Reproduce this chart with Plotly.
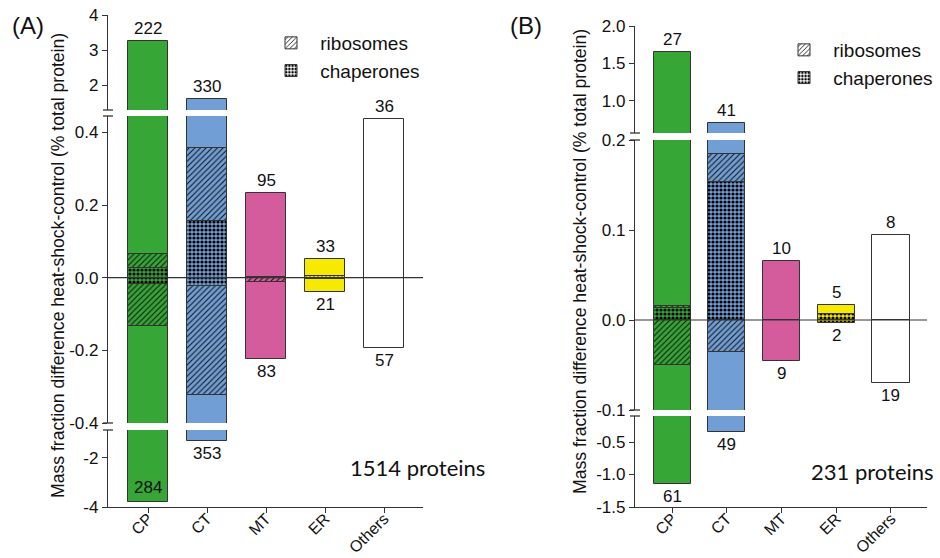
import plotly.graph_objects as go

W, H = 940, 558

categories = ["CP", "CT", "MT", "ER", "Others"]
colors = ["#36a637", "#719fd5", "#d45c9d", "#f6ea00", "#ffffff"]

# Panel A: 1514 proteins
A_up_total = [3.26, 1.60, 0.232, 0.052, 0.437]
A_up_chap = [0.028, 0.157, 0.003, 0.004, 0.0]
A_up_ribo = [0.036, 0.200, 0.0, 0.0, 0.0]
A_down_total = [-3.80, -1.30, -0.224, -0.039, -0.193]
A_down_chap = [-0.017, -0.024, 0.0, -0.003, 0.0]
A_down_ribo = [-0.116, -0.300, -0.012, 0.0, 0.0]
A_up_n = [222, 330, 95, 33, 36]
A_down_n = [284, 353, 83, 21, 57]

# Panel B: 231 proteins
B_up_total = [1.65, 0.71, 0.066, 0.017, 0.094]
B_up_chap = [0.013, 0.153, 0.0, 0.007, 0.0]
B_up_ribo = [0.003, 0.031, 0.0, 0.0, 0.0]
B_down_total = [-1.14, -0.35, -0.046, -0.003, -0.070]
B_down_chap = [0.0, 0.0, 0.0, -0.003, 0.0]
B_down_ribo = [-0.050, -0.036, 0.0, 0.0, 0.0]
B_up_n = [27, 41, 10, 5, 8]
B_down_n = [61, 49, 9, 2, 19]

FONT = "Liberation Sans, Arial, sans-serif"
LINE = "#333333"
NB = "\u00a0"


def px(p):
    return p / W


def py(p):
    return 1 - p / H


def rest(total, chap, ribo):
    return [t - c - r for t, c, r in zip(total, chap, ribo)]


panels = [
    dict(
        tag="(A)", tagpos=(28, 25), note="1514 proteins", notepos=(417, 467),
        xname="x", xdom=(108, 423), titlepos=(58, 266), legend="legend",
        legpos=(267, 24), yidx=[1, 2, 3],
        segs=[
            dict(range=[1.3, 4], dom=(15, 110), tickvals=[2, 3, 4], ticktext=["2", "3", "4"]),
            dict(range=[-0.4, 0.445], dom=(116, 423), tickvals=[-0.4, -0.2, 0, 0.2, 0.4],
                 ticktext=["-0.4", "-0.2", "0.0", "0.2", "0.4"]),
            dict(range=[-4, -0.86], dom=(430, 507), tickvals=[-4, -2], ticktext=["-4", "-2"]),
        ],
        up=(A_up_total, A_up_chap, A_up_ribo), down=(A_down_total, A_down_chap, A_down_ribo),
        up_n=A_up_n, down_n=A_down_n,
    ),
    dict(
        tag="(B)", tagpos=(526, 25), note="231 proteins", notepos=(872, 471),
        xname="x2", xdom=(635, 927), titlepos=(580, 262), legend="legend2",
        legpos=(780, 31), yidx=[4, 5, 6],
        segs=[
            dict(range=[0.57, 2.0], dom=(26, 133), tickvals=[1.0, 1.5, 2.0], ticktext=["1.0", "1.5", "2.0"]),
            dict(range=[-0.1, 0.2], dom=(140, 410), tickvals=[-0.1, 0, 0.1, 0.2],
                 ticktext=["-0.1", "0.0", "0.1", "0.2"]),
            dict(range=[-1.5, -0.1], dom=(416, 507), tickvals=[-1.5, -1.0, -0.5],
                 ticktext=["-1.5", "-1.0", "-0.5"]),
        ],
        up=(B_up_total, B_up_chap, B_up_ribo), down=(B_down_total, B_down_chap, B_down_ribo),
        up_n=B_up_n, down_n=B_down_n,
    ),
]

chap_pattern = dict(shape=".", fgcolor="#000000", fillmode="replace", fgopacity=1, size=4, solidity=0.5)
ribo_pattern = dict(shape="/", fgcolor="#111111", fillmode="replace", fgopacity=1, size=4, solidity=0.25)

fig = go.Figure()
layout = dict(
    width=W, height=H, margin=dict(l=0, r=0, t=0, b=0, pad=0, autoexpand=False),
    paper_bgcolor="white", plot_bgcolor="white", barmode="relative",
    showlegend=True, bargap=0,
)
annotations = []
shapes = []

for p in panels:
    xname = p["xname"]
    xkey = "xaxis" if xname == "x" else "xaxis" + xname[1:]
    bottom_y = "y" + str(p["yidx"][-1])
    layout[xkey] = dict(
        domain=[px(p["xdom"][0]), px(p["xdom"][1])], anchor=bottom_y,
        type="category", categoryorder="array", categoryarray=categories,
        range=[-0.68, 4.66], showline=True, linecolor=LINE, linewidth=1.3,
        ticks="outside", ticklen=5, tickwidth=1.3, tickcolor=LINE,
        tickangle=-45, tickfont=dict(family=FONT, size=16, color="#111"),
        ticklabelstandoff=-10,
        showgrid=False, zeroline=False, fixedrange=True, automargin=False,
    )
    ut, uc, ur = p["up"]
    dt, dc, dr = p["down"]
    series = [
        (uc, chap_pattern), (dc, chap_pattern),
        (ur, ribo_pattern), (dr, ribo_pattern),
        (rest(ut, uc, ur), None), (rest(dt, dc, dr), None),
    ]
    for si, seg in enumerate(p["segs"]):
        yi = p["yidx"][si]
        yname = "y" if yi == 1 else "y" + str(yi)
        ykey = "yaxis" if yi == 1 else "yaxis" + str(yi)
        layout[ykey] = dict(
            domain=[py(seg["dom"][1]), py(seg["dom"][0])], range=seg["range"],
            anchor=xname, showline=True, linecolor=LINE, linewidth=1.3,
            ticks="outside", ticklen=5, tickwidth=1.3, tickcolor=LINE,
            tickvals=seg["tickvals"], ticktext=seg["ticktext"],
            tickfont=dict(family=FONT, size=17, color="#111"),
            showgrid=False, zeroline=False, fixedrange=True, automargin=False,
        )
        for i, cat in enumerate(categories):
            for vals, pat in series:
                v = vals[i]
                if abs(v) < 1e-12:
                    continue
                marker = dict(color=colors[i], line=dict(color=LINE, width=1))
                if pat is not None:
                    marker["pattern"] = dict(pat, bgcolor=colors[i])
                else:
                    marker["pattern"] = dict(shape="")
                fig.add_trace(go.Bar(
                    x=[cat], y=[v], xaxis=xname, yaxis=yname, width=0.68,
                    marker=marker, showlegend=False, hoverinfo="skip",
                ))
        # zero line
        if seg["range"][0] < 0 < seg["range"][1]:
            shapes.append(dict(type="line", xref=xname + " domain", yref=yname,
                               x0=0, x1=1, y0=0, y1=0, layer="above",
                               line=dict(color=LINE, width=1.2)))
    # break marks on the y axis
    ax = p["xdom"][0]
    for si in range(len(p["segs"]) - 1):
        for edge in (p["segs"][si]["dom"][1], p["segs"][si + 1]["dom"][0]):
            shapes.append(dict(type="line", xref="paper", yref="paper",
                               x0=px(ax - 5), x1=px(ax + 5), y0=py(edge), y1=py(edge),
                               line=dict(color=LINE, width=1.3)))

    # count labels
    def place(i, v, n, up):
        for si, seg in enumerate(p["segs"]):
            lo, hi = seg["range"]
            if lo <= v <= hi:
                yi = p["yidx"][si]
                yname = "y" if yi == 1 else "y" + str(yi)
                pxu = (seg["dom"][1] - seg["dom"][0]) / (hi - lo)
                inside = (not up) and (v - lo) * pxu < 20
                annotations.append(dict(
                    x=categories[i], y=v, xref=xname, yref=yname, text=str(n),
                    showarrow=False, font=dict(family=FONT, size=17, color="#111"),
                    xanchor="center",
                    yanchor="bottom" if (up or inside) else "top",
                    yshift=(1 if up else (3 if inside else -1)),
                ))
                return

    for i in range(len(categories)):
        place(i, ut[i], p["up_n"][i], True)
        place(i, dt[i], p["down_n"][i], False)

    # titles and notes
    annotations.append(dict(
        x=px(p["titlepos"][0]), y=py(p["titlepos"][1]), xref="paper", yref="paper",
        xanchor="center", yanchor="middle",
        text="Mass fraction difference heat-shock-control (% total protein)",
        textangle=-90, showarrow=False, font=dict(family=FONT, size=17.6, color="#111"),
    ))
    annotations.append(dict(
        x=px(p["tagpos"][0]), y=py(p["tagpos"][1]), xref="paper", yref="paper",
        xanchor="center", yanchor="middle",
        text=p["tag"], showarrow=False, font=dict(family=FONT, size=24, color="#111"),
    ))
    annotations.append(dict(
        x=px(p["notepos"][0]), y=py(p["notepos"][1]), xref="paper", yref="paper",
        xanchor="center", yanchor="middle",
        text=p["note"], showarrow=False, font=dict(family="Lato, sans-serif", size=22, color="#111"),
    ))

    # legend entries
    for name, pat in (("ribosomes", ribo_pattern), ("chaperones", chap_pattern)):
        fig.add_trace(go.Bar(
            x=[None], y=[None], xaxis=xname, yaxis="y" + str(p["yidx"][1]), name=NB + name,
            legend=p["legend"],
            marker=dict(color="white", line=dict(color=LINE, width=1),
                        pattern=dict(pat, bgcolor="white", fgcolor="#000000")),
            showlegend=True, hoverinfo="skip",
        ))
    layout[p["legend"]] = dict(
        x=px(p["legpos"][0]), y=py(p["legpos"][1]), xanchor="left", yanchor="top",
        bgcolor="rgba(0,0,0,0)", font=dict(family=FONT, size=19, color="#111"),
        itemwidth=38, tracegroupgap=0,
    )

layout["annotations"] = annotations
layout["shapes"] = shapes
fig.update_layout(**layout)
fig.write_html("out.html", config={"displayModeBar": False},
               post_script="document.body.style.margin='0';")
